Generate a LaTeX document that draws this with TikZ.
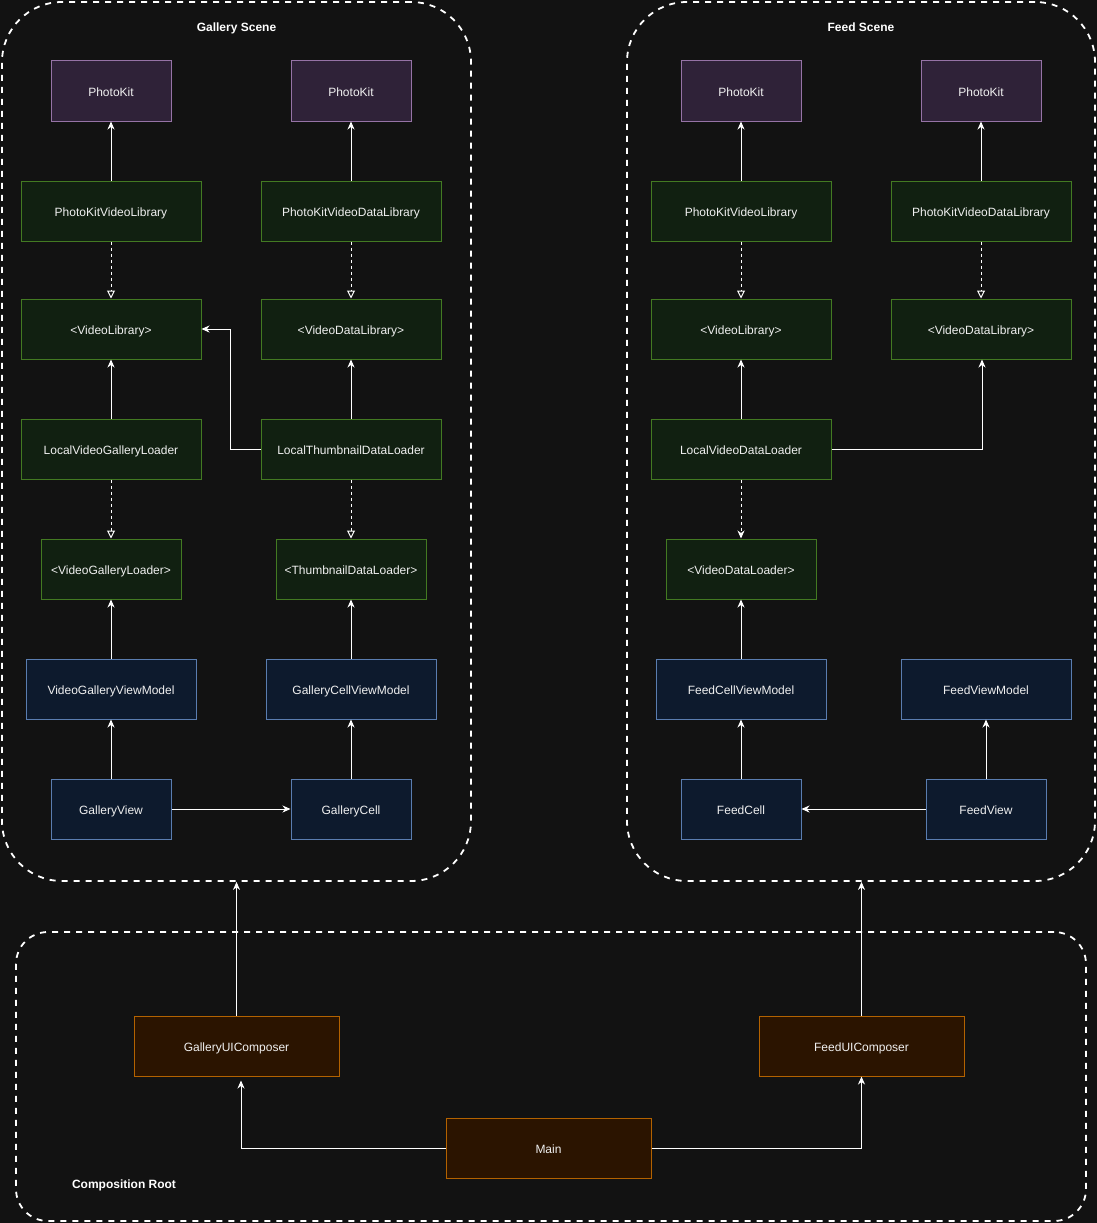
\documentclass[tikz,border=0pt]{standalone}
\usepackage{fontspec}
\setmainfont{Liberation Sans}
\usetikzlibrary{arrows.meta}
\definecolor{bg}{HTML}{121212}
\definecolor{txt}{HTML}{F0F0F0}
\definecolor{pfill}{HTML}{2F2238}
\definecolor{pdraw}{HTML}{9673A6}
\definecolor{gfill}{HTML}{112011}
\definecolor{gdraw}{HTML}{437A22}
\definecolor{bfill}{HTML}{0D1A2D}
\definecolor{bdraw}{HTML}{5A7DB0}
\definecolor{ofill}{HTML}{2B1400}
\definecolor{odraw}{HTML}{B36200}
\tikzset{
  box/.style={rectangle, line width=1pt, minimum height=60pt, inner sep=0pt,
    text height=11pt, text depth=0pt,
    text=txt, font=\fontsize{12}{14}\selectfont},
  pbox/.style={box, fill=pfill, draw=pdraw},
  gbox/.style={box, fill=gfill, draw=gdraw},
  bbox/.style={box, fill=bfill, draw=bdraw},
  obox/.style={box, fill=ofill, draw=odraw},
  container/.style={rectangle, draw=white, line width=1.8pt, dash pattern=on 6pt off 6pt, inner sep=0pt},
  title/.style={text=white, text height=11pt, text depth=0pt, inner sep=0pt, font=\bfseries\fontsize{12}{14}\selectfont},
  dep/.style={draw=white, line width=1pt, -{Stealth[length=8pt,width=7pt,inset=2.5pt]}},
  impl/.style={draw=white, line width=1pt, dash pattern=on 3pt off 3pt, -{Triangle[open,length=8pt,width=8pt,fill=bg]}},
  impls/.style={draw=white, line width=1pt, dash pattern=on 3pt off 3pt, -{Stealth[length=8pt,width=7pt,inset=2.5pt]}},
}
\begin{document}
\begin{tikzpicture}[x=1pt,y=-1pt]
\useasboundingbox (0,0) rectangle (1097,1223);
\fill[bg] (0,0) rectangle (1097,1223);

% containers
\node[container, rounded corners=60pt, minimum width=469pt, minimum height=879pt] (gs) at (236.5,441.5) {};
\node[container, rounded corners=60pt, minimum width=468pt, minimum height=879pt] (fs) at (861,441.5) {};
\node[container, rounded corners=32pt, minimum width=1070pt, minimum height=289pt] (cr) at (551,1076.5) {};
\node[title] (gst) at (236.5,26) {Gallery Scene};
\node[title] (fst) at (861,26) {Feed Scene};
\node[title] (crt) at (124,1183) {Composition Root};

% Gallery scene
\node[pbox, minimum width=120pt] (pk1) at (111,91) {PhotoKit};
\node[pbox, minimum width=120pt] (pk2) at (351,91) {PhotoKit};
\node[gbox, minimum width=180pt] (pkvl) at (111,211) {PhotoKitVideoLibrary};
\node[gbox, minimum width=180pt] (pkvdl) at (351,211) {PhotoKitVideoDataLibrary};
\node[gbox, minimum width=180pt] (vl) at (111,329) {<VideoLibrary>};
\node[gbox, minimum width=180pt] (vdl) at (351,329) {<VideoDataLibrary>};
\node[gbox, minimum width=180pt] (lvgl) at (111,449) {LocalVideoGalleryLoader};
\node[gbox, minimum width=180pt] (ltdl) at (351,449) {LocalThumbnailDataLoader};
\node[gbox, minimum width=140pt] (vgl) at (111,569) {<VideoGalleryLoader>};
\node[gbox, minimum width=150pt] (tdl) at (351,569) {<ThumbnailDataLoader>};
\node[bbox, minimum width=170pt] (vgvm) at (111,689) {VideoGalleryViewModel};
\node[bbox, minimum width=170pt] (gcvm) at (351,689) {GalleryCellViewModel};
\node[bbox, minimum width=120pt] (gv) at (111,809) {GalleryView};
\node[bbox, minimum width=120pt] (gc) at (351,809) {GalleryCell};

% Feed scene
\node[pbox, minimum width=120pt] (fpk1) at (741,91) {PhotoKit};
\node[pbox, minimum width=120pt] (fpk2) at (981,91) {PhotoKit};
\node[gbox, minimum width=180pt] (fpkvl) at (741,211) {PhotoKitVideoLibrary};
\node[gbox, minimum width=180pt] (fpkvdl) at (981,211) {PhotoKitVideoDataLibrary};
\node[gbox, minimum width=180pt] (fvl) at (741,329) {<VideoLibrary>};
\node[gbox, minimum width=180pt] (fvdl) at (981,329) {<VideoDataLibrary>};
\node[gbox, minimum width=180pt] (lvdl) at (741,449) {LocalVideoDataLoader};
\node[gbox, minimum width=150pt] (vdlo) at (741,569) {<VideoDataLoader>};
\node[bbox, minimum width=170pt] (fcvm) at (741,689) {FeedCellViewModel};
\node[bbox, minimum width=170pt] (fvm) at (986,689) {FeedViewModel};
\node[bbox, minimum width=120pt] (fcell) at (741,809) {FeedCell};
\node[bbox, minimum width=120pt] (fview) at (986,809) {FeedView};

% Composition root
\node[obox, minimum width=205pt] (guic) at (236.5,1046) {GalleryUIComposer};
\node[obox, minimum width=205pt] (fuic) at (861.5,1046) {FeedUIComposer};
\node[obox, minimum width=205pt] (main) at (548.5,1148) {Main};

% Gallery edges
\draw[dep] (pkvl) -- (pk1);
\draw[dep] (pkvdl) -- (pk2);
\draw[impl] (pkvl) -- (vl);
\draw[impl] (pkvdl) -- (vdl);
\draw[dep] (lvgl) -- (vl);
\draw[dep] (ltdl) -- (vdl);
\draw[dep] (ltdl.west) -- ++(-30,0) |- (vl.east);
\draw[impl] (lvgl) -- (vgl);
\draw[impl] (ltdl) -- (tdl);
\draw[dep] (vgvm) -- (vgl);
\draw[dep] (gcvm) -- (tdl);
\draw[dep] (gv) -- (vgvm);
\draw[dep] (gc) -- (gcvm);
\draw[dep] (gv) -- (gc);

% Feed edges
\draw[dep] (fpkvl) -- (fpk1);
\draw[dep] (fpkvdl) -- (fpk2);
\draw[impl] (fpkvl) -- (fvl);
\draw[impl] (fpkvdl) -- (fvdl);
\draw[dep] (lvdl) -- (fvl);
\draw[dep] (lvdl.east) -| ([xshift=1pt]fvdl.south);
\draw[impls] (lvdl) -- (vdlo);
\draw[dep] (fcvm) -- (vdlo);
\draw[dep] (fcell) -- (fcvm);
\draw[dep] (fview) -- (fvm);
\draw[dep] (fview) -- (fcell);

% Composition edges
\draw[dep] (guic.north) -- (guic.north |- gs.south);
\draw[dep] (fuic.north) -- (fuic.north |- fs.south);
\draw[dep] (main.west) -| ([xshift=4.5pt,yshift=-4pt]guic.south);
\draw[dep] (main.east) -| (fuic.south);
\end{tikzpicture}
\end{document}
